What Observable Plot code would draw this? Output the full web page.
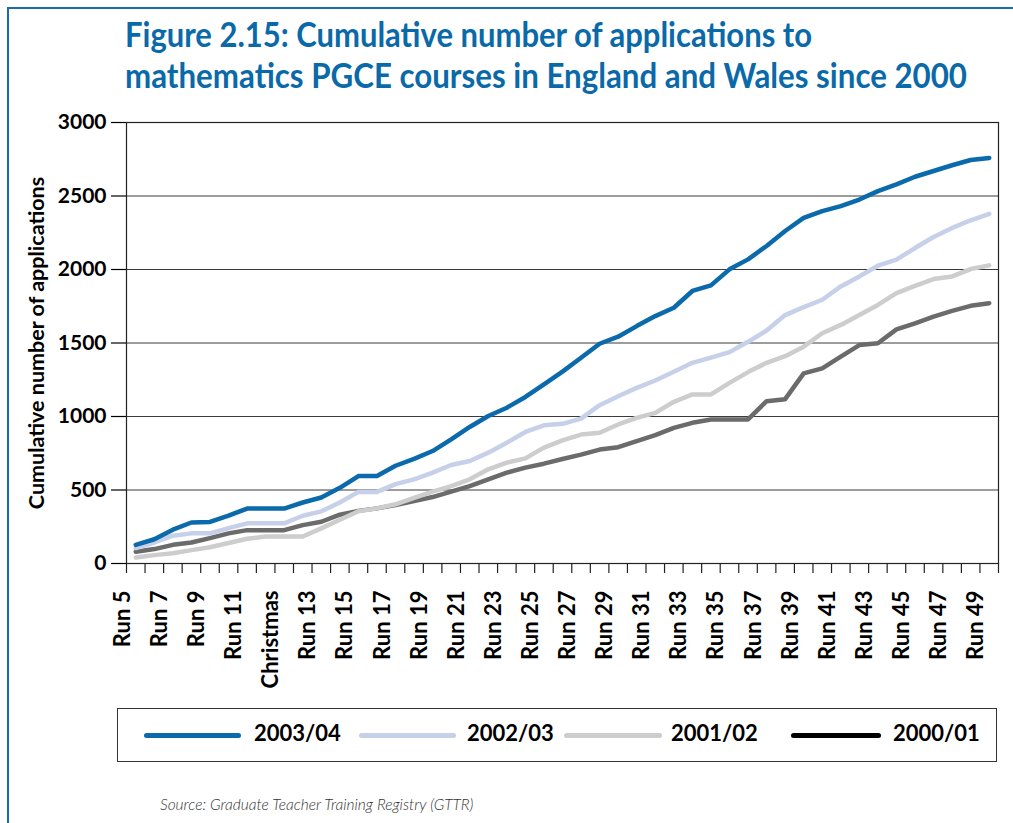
<!DOCTYPE html>
<html>
<head>
<meta charset="utf-8">
<script src="https://cdn.jsdelivr.net/npm/d3@7"></script>
<script src="https://cdn.jsdelivr.net/npm/@observablehq/plot@0.6"></script>
<style>
  body { margin: 0; background: #fff; font-family: Lato, "Open Sans", sans-serif; }
  #page { position: relative; width: 1013px; height: 823px; overflow: hidden; background: #fff; }
  #frame { position: absolute; left: 7px; top: 7px; right: -10px; bottom: -10px;
           border-top: 2px solid #1a6dad; border-left: 2px solid #1a6dad; }
  .title { position: absolute; left: 125px; font-weight: 700; font-size: 35px; color: #0a69a8;
           white-space: nowrap; transform-origin: 0 0; line-height: 1; }
  #chart { position: absolute; left: 0; top: 100px; }
  #legend { position: absolute; left: 117px; top: 708px; width: 878px; height: 52px;
            border: 1.5px solid #333; background: #fff; }
  .sw { position: absolute; top: 24px; height: 5px; border-radius: 3px; }
  .lab { position: absolute; top: 11px; font-size: 22px; font-weight: 700; color: #000; line-height: 1.2; }
  #source { position: absolute; left: 160px; top: 795px; font-size: 15.5px; font-style: italic;
            color: #333; font-weight: 300; }
</style>
</head>
<body>
<div id="page">
  <div id="frame"></div>
  <div class="title" id="t1" style="top:16px">Figure 2.15: Cumulative number of applications to</div>
  <div class="title" id="t2" style="top:57px">mathematics PGCE courses in England and Wales since 2000</div>
  <div id="chart"></div>
  <div id="legend"></div>
  <div id="source">Source: Graduate Teacher Training Registry (GTTR)</div>
</div>
<script>
// ---- data ----
const categories = ["Run 5","Run 6","Run 7","Run 8","Run 9","Run 10","Run 11","Run 12","Christmas","Christmas 2",
  "Run 13","Run 14","Run 15","Run 16","Run 17","Run 18","Run 19","Run 20","Run 21","Run 22","Run 23","Run 24",
  "Run 25","Run 26","Run 27","Run 28","Run 29","Run 30","Run 31","Run 32","Run 33","Run 34","Run 35","Run 36",
  "Run 37","Run 38","Run 39","Run 40","Run 41","Run 42","Run 43","Run 44","Run 45","Run 46","Run 47","Run 48","Run 49"];
const seriesNames = ["2003/04","2002/03","2001/02","2000/01"];
const values2003 = [127,165,230,279,283,326,374,374,374,415,449,515,595,595,665,712,765,845,929,1003,1060,1133,1219,1305,1400,1495,1543,1615,1683,1740,1854,1892,2001,2069,2160,2262,2351,2397,2431,2476,2533,2579,2631,2670,2709,2745,2759];
const values2002 = [105,143,189,205,205,241,273,273,273,325,355,415,487,487,540,572,618,670,697,754,822,895,940,950,986,1077,1138,1195,1245,1304,1365,1400,1438,1508,1585,1690,1744,1794,1885,1953,2026,2067,2146,2221,2283,2335,2379];
const values2001 = [41,57,70,91,111,139,168,184,184,184,239,298,355,375,403,447,489,527,573,641,686,715,788,838,877,889,946,991,1025,1100,1150,1150,1229,1302,1365,1410,1475,1566,1623,1691,1759,1839,1889,1935,1953,2003,2028];
const values2000 = [80,98,127,143,173,205,227,227,227,261,284,332,358,375,398,424,452,489,527,573,618,652,679,711,741,775,791,832,873,923,957,980,980,980,1104,1118,1293,1327,1407,1486,1498,1593,1634,1680,1718,1753,1771];
const yTicks = [0,500,1000,1500,2000,2500,3000];
const yLabel = "Cumulative number of applications";

// ---- styling ----
const lineColors = ["#0b6aab","#c6d0e8","#cdcdcd","#6b6b6b"];
const legendColors = ["#0b6aab","#c6d0e8","#cdcdcd","#000000"];

const seriesValues = [values2003, values2002, values2001, values2000];
const rows = [];
seriesNames.forEach((s, k) => seriesValues[k].forEach((v, i) => rows.push({series: s, run: categories[i], value: v})));
const drawOrder = rows.slice().reverse();

const W = 1013, H = 600, mL = 126, mR = 15, mT = 22, mB = 137;
const step = (W - mL - mR) / categories.length;
const labeled = categories.filter((d, i) => i % 2 === 0);
const font = "Lato, 'Open Sans', sans-serif";

const chart = Plot.plot({
  width: W, height: H,
  marginLeft: mL, marginRight: mR, marginTop: mT, marginBottom: mB,
  style: {fontFamily: font, background: "transparent", color: "#000", overflow: "visible"},
  x: {type: "point", domain: categories, padding: 0.5, round: false, axis: null},
  y: {domain: [0, 3000], axis: null},
  color: {domain: seriesNames, range: lineColors},
  marks: [
    Plot.gridY(yTicks, {stroke: "#3a3a3a", strokeOpacity: 1, strokeWidth: 1}),
    Plot.frame({stroke: "#222", strokeWidth: 1.2}),
    Plot.ruleX(categories, {x: d => d, y1: 0, y2: 0, insetBottom: -10, dx: -step / 2, stroke: "#222", strokeWidth: 1.2}),
    Plot.ruleX([categories[categories.length - 1]], {x: d => d, y1: 0, y2: 0, insetBottom: -10, dx: step / 2, stroke: "#222", strokeWidth: 1.2}),
    Plot.axisY({ticks: yTicks, tickSize: 15, tickPadding: 5, fontSize: 21, fontWeight: "bold",
                tickFormat: d => String(d), label: null, strokeWidth: 1.2}),
    Plot.text(labeled, {x: d => d, frameAnchor: "bottom", rotate: -90, textAnchor: "end",
                        dy: 27, dx: -6, fontSize: 22, fontWeight: "bold", fill: "#000"}),
    Plot.text([yLabel], {frameAnchor: "left", textAnchor: "middle", dx: -89, rotate: -90,
                         fontSize: 21.5, fontWeight: "bold", fill: "#000"}),
    Plot.line(drawOrder, {x: "run", y: "value", z: "series", stroke: "series", strokeWidth: 4.5,
                          strokeLinecap: "round", strokeLinejoin: "round"})
  ]
});
document.getElementById("chart").appendChild(chart);

// ---- legend ----
const legendLayout = [
  {sw: 26, w: 97, lab: 136},
  {sw: 241, w: 97, lab: 349},
  {sw: 446, w: 98, lab: 553},
  {sw: 673, w: 90, lab: 775}
];
const legend = document.getElementById("legend");
seriesNames.forEach((s, k) => {
  const sw = document.createElement("div");
  sw.className = "sw";
  sw.style.left = legendLayout[k].sw + "px";
  sw.style.width = legendLayout[k].w + "px";
  sw.style.background = legendColors[k];
  legend.appendChild(sw);
  const lab = document.createElement("div");
  lab.className = "lab";
  lab.style.left = legendLayout[k].lab + "px";
  lab.textContent = s;
  legend.appendChild(lab);
});

// ---- fit title widths (condensed face) ----
const titleWidths = {t1: 687, t2: 842};
for (const id in titleWidths) {
  const el = document.getElementById(id);
  const w = el.getBoundingClientRect().width;
  el.style.transform = `scaleX(${titleWidths[id] / w})`;
}
</script>
</body>
</html>
